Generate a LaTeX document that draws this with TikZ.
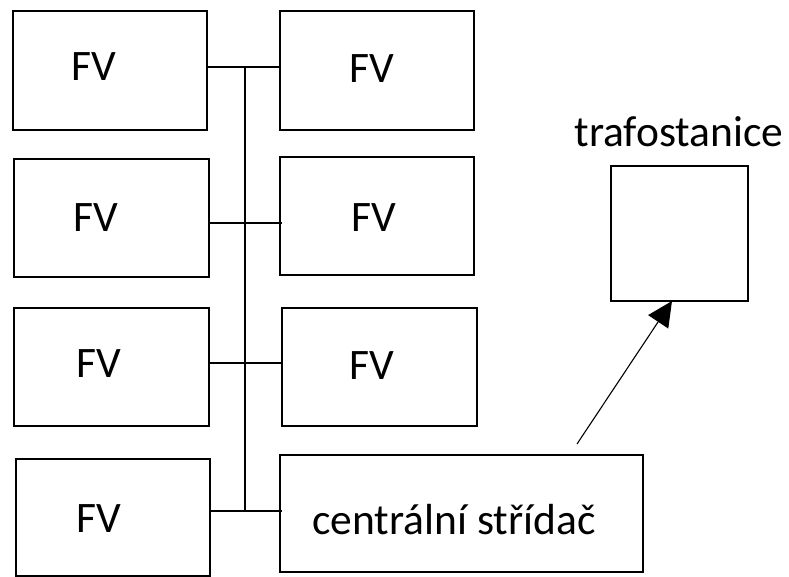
\documentclass[tikz,border=0pt]{standalone}
\usepackage{fontspec}
\setmainfont{Carlito}
\usetikzlibrary{arrows.meta}
\begin{document}
\begin{tikzpicture}[x=1pt,y=-1pt,
  box/.style={draw, line width=1.8pt, inner sep=0pt, rectangle},
  lbl/.style={inner sep=0pt, font=\fontsize{43.5}{50}\selectfont},
  bus/.style={line width=1.6pt},
  arr/.style={line width=1.1pt, -{Triangle[length=25pt,width=24pt]}}]
\useasboundingbox (0,0) rectangle (789,577);
% boxes
\node[box, minimum width=194pt, minimum height=119pt] (L1) at (110,70.5) {};
\node[box, minimum width=195pt, minimum height=118pt] (L2) at (111.5,218) {};
\node[box, minimum width=195pt, minimum height=118pt] (L3) at (111.5,367) {};
\node[box, minimum width=194pt, minimum height=117pt] (L4) at (113,517.5) {};
\node[box, minimum width=194pt, minimum height=119pt] (R1) at (377,70.5) {};
\node[box, minimum width=194pt, minimum height=118pt] (R2) at (377,216) {};
\node[box, minimum width=195pt, minimum height=118pt] (R3) at (379.5,367) {};
\node[box, minimum width=363pt, minimum height=117pt] (C) at (461.5,513.5) {};
\node[box, minimum width=137pt, minimum height=135pt] (T) at (679.5,233.5) {};
% labels
\node[lbl] (tL1) at (94,67) {FV};
\node[lbl] (tL2) at (96,218) {FV};
\node[lbl] (tL3) at (99,364) {FV};
\node[lbl] (tL4) at (99,519) {FV};
\node[lbl] (tR1) at (372,69) {FV};
\node[lbl] (tR2) at (374,218) {FV};
\node[lbl] (tR3) at (372,366) {FV};
\node[lbl, anchor=base] (tC) at (454,534) {centrální střídač};
\node[lbl, anchor=base] (tT) at (679,147) {trafostanice};
% bus
\coordinate (b1) at (245,67);
\coordinate (b2) at (245,223);
\coordinate (b3) at (245,363);
\coordinate (b4) at (245,511);
\draw[bus] (b1) -- (b4);
\draw[bus] (L1.east |- b1) -- (R1.west |- b1);
\draw[bus] (L2.east |- b2) -- ([xshift=3pt]R2.west |- b2);
\draw[bus] (L3.east |- b3) -- (R3.west |- b3);
\draw[bus] (L4.east |- b4) -- ([xshift=3pt]C.west |- b4);
% arrow
\coordinate (a0) at (577,444);
\coordinate (a1) at (672,301);
\draw[arr] (a0) -- (a1);
\end{tikzpicture}
\end{document}
